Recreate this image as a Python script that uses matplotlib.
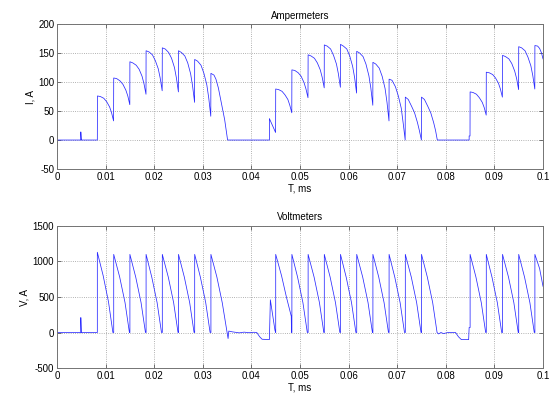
import numpy as np
import matplotlib
matplotlib.use("Agg")
import matplotlib.pyplot as plt

# current trace, (time s, current A) breakpoints
amp_points = [
    (0, 0), (0.0049, 0), (0.0049, 14), (0.0050, 0), (0.0083, 0),
    # first conduction interval
    (0.00833, 76), (0.00893, 75), (0.00963, 72), (0.01023, 66), (0.01083, 57), (0.01123, 47), (0.01164, 33),
    (0.01167, 107), (0.01227, 106), (0.01297, 102), (0.01357, 96), (0.01417, 86), (0.01457, 76), (0.01498, 61),
    (0.0150, 135), (0.0156, 133), (0.0163, 129), (0.0169, 122), (0.0175, 110), (0.0179, 97), (0.01831, 79),
    (0.01833, 154), (0.01893, 152), (0.01963, 147), (0.02023, 137), (0.02083, 123), (0.02123, 107), (0.02164, 85),
    (0.02167, 159), (0.02227, 157), (0.02297, 151), (0.02357, 141), (0.02417, 125), (0.02457, 107), (0.02498, 83),
    (0.0250, 154), (0.0256, 151), (0.0263, 145), (0.0269, 133), (0.0275, 114), (0.0279, 93), (0.02831, 65),
    (0.02833, 139), (0.02893, 136), (0.02963, 129), (0.03023, 115), (0.03083, 95), (0.03123, 72), (0.03164, 41),
    (0.03167, 115), (0.0323, 112), (0.0327, 105), (0.0332, 90), (0.0338, 65), (0.0345, 35), (0.0351, 0),
    # second conduction interval
    (0.0437, 0), (0.0437, 37), (0.04498, 13),
    (0.0450, 88), (0.0456, 87), (0.0463, 84), (0.0469, 78), (0.0475, 70), (0.0479, 60), (0.04831, 47),
    (0.04833, 121), (0.04893, 120), (0.04963, 116), (0.05023, 110), (0.05083, 99), (0.05123, 88), (0.05164, 73),
    (0.05167, 147), (0.05227, 145), (0.05297, 141), (0.05357, 133), (0.05417, 121), (0.05457, 108), (0.05498, 90),
    (0.0550, 164), (0.0556, 162), (0.0563, 157), (0.0569, 146), (0.0575, 131), (0.0579, 114), (0.05831, 91),
    (0.05833, 165), (0.05893, 162), (0.05963, 157), (0.06023, 145), (0.06083, 127), (0.06123, 108), (0.06164, 81),
    (0.06167, 153), (0.06227, 150), (0.06297, 144), (0.06357, 131), (0.06417, 111), (0.06457, 90), (0.06498, 60),
    (0.0650, 134), (0.0656, 131), (0.0663, 124), (0.0669, 110), (0.0675, 89), (0.0679, 65), (0.06831, 33),
    (0.06833, 105), (0.06893, 103), (0.06963, 92), (0.07023, 76), (0.07083, 55), (0.07123, 29), (0.07164, 0),
    (0.07167, 74), (0.07227, 70), (0.07297, 58), (0.07357, 47), (0.07417, 30), (0.07457, 16), (0.07498, 0),
    (0.0750, 74), (0.0756, 70), (0.0763, 58), (0.0769, 47), (0.0775, 30), (0.0779, 16), (0.07825, 0),
    # third conduction interval
    (0.0848, 0), (0.0848, 7), (0.08498, 7),
    (0.0850, 83), (0.0856, 82), (0.0863, 79), (0.0869, 73), (0.0875, 65), (0.0879, 56), (0.08831, 43),
    (0.08833, 117), (0.08893, 116), (0.08963, 113), (0.09023, 107), (0.09083, 98), (0.09123, 88), (0.09164, 74),
    (0.09167, 146), (0.09227, 144), (0.09297, 140), (0.09357, 132), (0.09417, 119), (0.09457, 106), (0.09498, 87),
    (0.0950, 161), (0.0956, 159), (0.0963, 154), (0.0969, 143), (0.0975, 128), (0.0979, 111), (0.09831, 88),
    (0.09833, 163), (0.0989, 162), (0.0993, 158), (0.0997, 150), (0.1, 140),
]

# voltage trace, (time s, voltage V) breakpoints
volt_points = [
    (0, 0), (0.0049, 0), (0.0049, 210), (0.0050, 0), (0.0083, 0), (0.0083, 1130),
    (0.0095, 800), (0.0106, 430), (0.0115, 0), (0.01167, 0), (0.01167, 1100),
    (0.0129, 780), (0.0140, 420), (0.0149, 0), (0.0150, 0), (0.0150, 1100),
    (0.0162, 780), (0.0173, 420), (0.0182, 0), (0.01833, 0), (0.01833, 1100),
    (0.0195, 780), (0.0206, 420), (0.0215, 0), (0.02167, 0), (0.02167, 1100),
    (0.0229, 780), (0.0240, 420), (0.0249, 0), (0.0250, 0), (0.0250, 1100),
    (0.0262, 780), (0.0273, 420), (0.0282, 0), (0.02833, 0), (0.02833, 1100),
    (0.0295, 780), (0.0306, 420), (0.0315, 0), (0.03167, 0), (0.03167, 1100),
    (0.0329, 780), (0.0340, 420), (0.0350, 0), (0.0352, -85), (0.03535, 20),
    (0.0360, 10), (0.0365, 5), (0.0375, -5), (0.0385, 5), (0.0395, -3),
    (0.0405, 3), (0.0411, 0),
    (0.0417, -60), (0.0422, -95), (0.0437, -100), (0.0439, 460), (0.04485, 30),
    (0.0450, 0), (0.0450, 1100),
    (0.0462, 800), (0.0472, 500), (0.0482, 230), (0.04825, 0), (0.04833, 0), (0.04833, 1100),
    (0.0495, 780), (0.0506, 420), (0.0515, 0), (0.05167, 0), (0.05167, 1100),
    (0.0529, 780), (0.0540, 420), (0.0549, 0), (0.0550, 0), (0.0550, 1100),
    (0.0562, 780), (0.0573, 420), (0.0582, 0), (0.05833, 0), (0.05833, 1100),
    (0.0595, 780), (0.0606, 420), (0.0615, 0), (0.06167, 0), (0.06167, 1100),
    (0.0629, 780), (0.0640, 420), (0.0649, 0), (0.0650, 0), (0.0650, 1100),
    (0.0662, 780), (0.0673, 420), (0.0682, 0), (0.06833, 0), (0.06833, 1100),
    (0.0695, 780), (0.0706, 420), (0.0715, 0), (0.07167, 0), (0.07167, 1100),
    (0.0729, 780), (0.0740, 420), (0.0749, 0), (0.0750, 0), (0.0750, 1100),
    (0.0762, 780), (0.0773, 420), (0.0782, 0), (0.0785, -20), (0.0790, 0),
    (0.0795, -15), (0.0805, 0), (0.0820, 0),
    (0.0826, -60), (0.0832, -100), (0.0847, -100), (0.0848, 70), (0.0850, 70),
    (0.0850, 1100),
    (0.0862, 780), (0.0873, 420), (0.0882, 0), (0.08833, 0), (0.08833, 1100),
    (0.0895, 780), (0.0906, 420), (0.0915, 0), (0.09167, 0), (0.09167, 1100),
    (0.0929, 780), (0.0940, 420), (0.0949, 0), (0.0950, 0), (0.0950, 1100),
    (0.0962, 780), (0.0973, 420), (0.0982, 0), (0.09833, 0), (0.09833, 1100),
    (0.0993, 900), (0.1, 650),
]

x_ticks = [0, 0.01, 0.02, 0.03, 0.04, 0.05, 0.06, 0.07, 0.08, 0.09, 0.1]
x_ticklabels = ["0", "0.01", "0.02", "0.03", "0.04", "0.05", "0.06", "0.07", "0.08", "0.09", "0.1"]

plt.rcParams['font.family'] = ['Liberation Sans', 'DejaVu Sans']
plt.rcParams['font.size'] = 7
plt.rcParams['axes.unicode_minus'] = False

fig = plt.figure(figsize=(5.55, 3.96), dpi=100)
ax1 = fig.add_axes([0.1027, 0.5732, 0.8757, 0.366])
ax2 = fig.add_axes([0.1027, 0.0707, 0.8757, 0.3586])

panels = [
    (ax1, amp_points, "Ampermeters", "I, A", (-50, 200), [-50, 0, 50, 100, 150, 200]),
    (ax2, volt_points, "Voltmeters", "V, A", (-500, 1500), [-500, 0, 500, 1000, 1500]),
]

for ax, pts, title, ylabel, ylim, yticks in panels:
    t, v = np.array(pts).T
    ax.plot(t, v, color='#2a2aff', lw=0.55)
    ax.set_xlim(0, 0.1)
    ax.set_ylim(*ylim)
    ax.set_xticks(x_ticks)
    ax.set_xticklabels(x_ticklabels)
    ax.set_yticks(yticks)
    ax.set_title(title, fontsize=7, pad=4)
    ax.set_xlabel("T, ms", labelpad=1)
    ax.set_ylabel(ylabel, labelpad=2)
    ax.grid(True, linestyle=':', color='0.6', lw=0.6)
    ax.tick_params(direction='in', top=True, right=True, length=3, width=0.6,
                   color='0.35', pad=2)
    for s in ax.spines.values():
        s.set_color('0.45')
        s.set_linewidth(0.7)

fig.savefig("out.png", dpi=100)
